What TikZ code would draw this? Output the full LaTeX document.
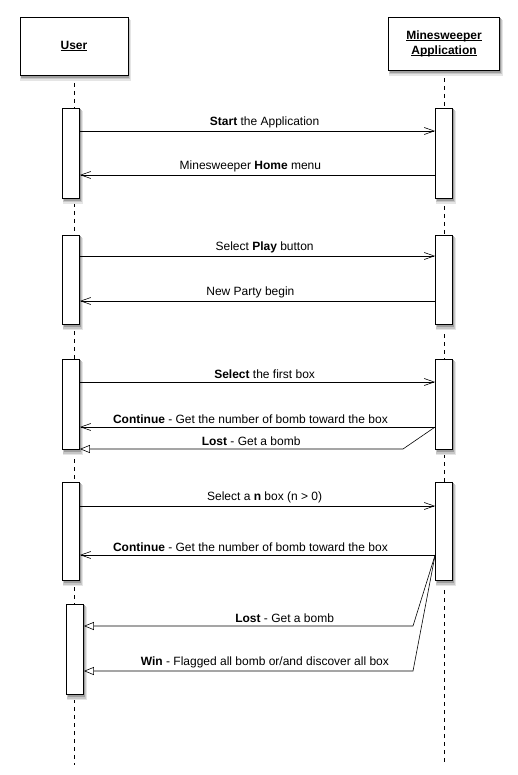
\documentclass[tikz,border=0pt]{standalone}
\usepackage{fontspec}
\setmainfont{Liberation Sans}
\usetikzlibrary{arrows.meta}
\newcommand{\headul}[1]{\setbox0\hbox{#1}\rlap{\usebox0}\rule[-1.5pt]{\wd0}{0.7pt}}

\begin{document}
\begin{tikzpicture}[x=1pt,y=-1pt]
\tikzstyle{head}=[draw,fill=white,line width=0.8pt,align=center,inner sep=0pt,font=\fontsize{12}{15}\selectfont\bfseries];
\tikzstyle{act}=[draw,fill=white,line width=0.8pt,minimum width=17pt,inner sep=0pt];
\tikzstyle{life}=[dash pattern=on 4pt off 4pt,line width=0.6pt];
\tikzstyle{call}=[-{Straight Barb[length=10pt,width=7pt]},line width=0.6pt];
\tikzstyle{ret}=[-{Triangle[open,length=10pt,width=8pt]},line width=0.6pt];
\tikzstyle{lbl}=[above,inner sep=3pt,pos=0.52,font=\fontsize{12}{14}\selectfont];

\useasboundingbox (0,0) rectangle (518,775);
\coordinate (userend) at (74,765);
\coordinate (append) at (444,765);
\coordinate (usertop) at (74,75);
\coordinate (apptop) at (444,70);
\draw[life] (usertop) -- (userend);
\draw[life] (apptop) -- (append);

\foreach \x/\y/\w/\h in {74/46/108/58,444/43.5/111/53,71/153/17/90,444/153/17/90,71/279.5/17/89,444/279.5/17/89,71/404/17/90,444/404/17/90,71/531/17/98,444/531/17/98,75/649/17/90}{
  \fill[black!10] ({\x-\w/2},{\y-\h/2+3}) rectangle ({\x+\w/2+3},{\y+\h/2+6});
  \fill[black!22] ({\x-\w/2+0.5},{\y-\h/2+2}) rectangle ({\x+\w/2+2},{\y+\h/2+4.5});
  \fill[black!38] ({\x-\w/2+1},{\y-\h/2+1}) rectangle ({\x+\w/2+1},{\y+\h/2+3});
}

\node[head,minimum width=108pt,minimum height=58pt] (user) at (74,46) {\headul{User}};
\node[head,minimum width=111pt,minimum height=53pt] (app) at (444,43.5) {\headul{Minesweeper}\\\headul{Application}};

\node[act,minimum height=90pt] (u1) at (71,153) {};
\node[act,minimum height=90pt] (a1) at (444,153) {};
\node[act,minimum height=89pt] (u2) at (71,279.5) {};
\node[act,minimum height=89pt] (a2) at (444,279.5) {};
\node[act,minimum height=90pt] (u3) at (71,404) {};
\node[act,minimum height=90pt] (a3) at (444,404) {};
\node[act,minimum height=98pt] (u4) at (71,531) {};
\node[act,minimum height=98pt] (a4) at (444,531) {};
\node[act,minimum height=90pt] (u5) at (75,649) {};

\draw[call] (u1.east |- 0,131) -- node[lbl]{\textbf{Start} the Application} (a1.west |- 0,131);
\draw[call] (a1.west |- 0,175) -- node[lbl]{Minesweeper \textbf{Home} menu} (u1.east |- 0,175);

\draw[call] (u2.east |- 0,256) -- node[lbl]{Select \textbf{Play} button} (a2.west |- 0,256);
\draw[call] (a2.west |- 0,301) -- node[lbl]{New Party begin} (u2.east |- 0,301);

\draw[call] (u3.east |- 0,382) -- node[lbl]{\textbf{Select} the first box} (a3.west |- 0,382);
\draw[call] (a3.west |- 0,427) -- node[lbl]{\textbf{Continue} - Get the number of bomb toward the box} (u3.east |- 0,427);
\draw[ret] (a3.west |- 0,427) -- (403,449) -- node[lbl,pos=0.47]{\textbf{Lost} - Get a bomb} (u3.east |- 0,449);

\draw[call] (u4.east |- 0,506) -- node[lbl]{Select a \textbf{n} box (n > 0)} (a4.west |- 0,506);
\draw[call] (a4.west |- 0,555) -- node[lbl]{\textbf{Continue} - Get the number of bomb toward the box} (u4.east |- 0,555);
\draw[ret] (a4.west |- 0,555) -- (413,626) -- node[lbl,pos=0.39]{\textbf{Lost} - Get a bomb} (u5.east |- 0,626);
\draw[ret] (a4.west |- 0,555) -- (413,671) -- node[lbl,pos=0.45]{\textbf{Win} - Flagged all bomb or/and discover all box} (u5.east |- 0,671);
\end{tikzpicture}
\end{document}
